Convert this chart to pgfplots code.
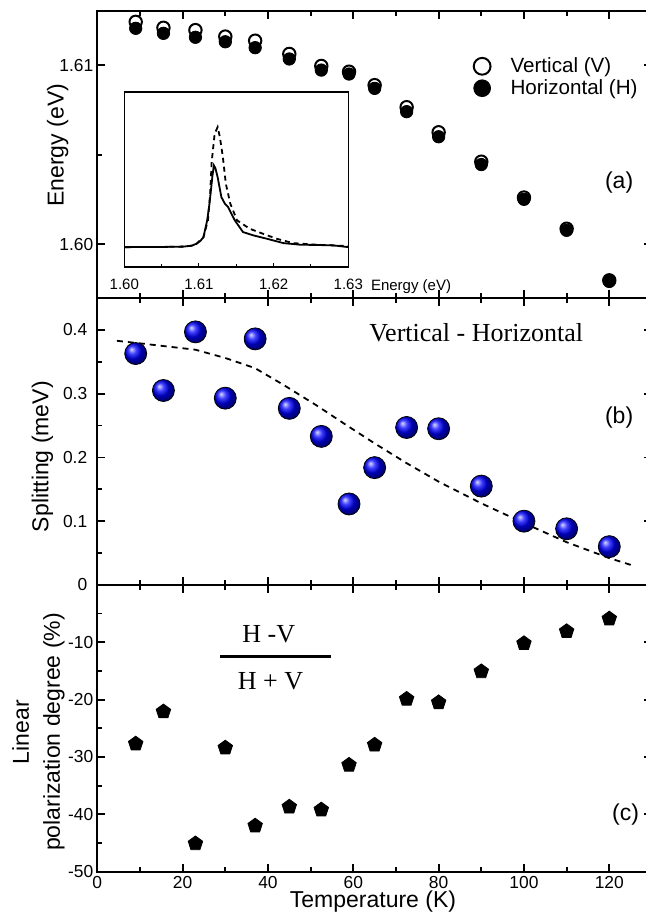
\documentclass[border=0pt]{standalone}
\usepackage{pgfplots}
\pgfplotsset{compat=1.18}
\usepackage{fontspec}
\setmainfont{Liberation Sans}
\newfontfamily\tnr{Liberation Serif}
\begin{document}
\begin{tikzpicture}
\pgfplotsset{
 panel/.style={
  scale only axis, width=277.33pt, height=143.4pt,
  xmin=0, xmax=130,
  xtick={0,20,...,120}, minor xtick={10,30,...,130},
  axis line style={line width=1pt},
  every tick/.style={line width=0.9pt, black},
  major tick length=4pt, minor tick length=2.5pt,
  tick label style={font=\fontsize{8.7}{10}\selectfont},
  xticklabel style={inner ysep=1pt, yshift=-0.9pt},
  label style={font=\fontsize{11.5}{15.5}\selectfont},
  clip=false,
 },
}
% ---------------- panel (a)
\begin{axis}[panel, name=a, at={(0,286.8pt)}, anchor=south west,
  ymin=1.597, ymax=1.613, ytick={1.60,1.61}, yticklabels={1.60,1.61}, minor ytick={1.605},
  yticklabel style={xshift=1.5pt},
  xticklabels={},
  ylabel={Energy (eV)}, ylabel style={at={(axis description cs:-0.0714,0.533)}, anchor=center},
  legend style={draw=none, fill=none, inner sep=0pt, at={(axis description cs:0.678,0.770)}, anchor=west,
    font=\fontsize{10.3}{12}\selectfont, row sep=-2pt,
    /tikz/every odd column/.append style={column sep=8pt}},
  legend cell align=left,
  legend image code/.code={\draw[#1, mark size=4.2pt] plot coordinates {(0cm,0cm)};},
]
\addplot[only marks, mark=*, mark size=3.1pt, mark options={fill=white, draw=black, line width=1pt}] coordinates {
(9,1.61241)(15.5,1.61208)(23,1.61195)(30,1.61159)(37,1.61136)(45,1.61062)(52.5,1.60995)(59,1.60963)
(65,1.60888)(72.5,1.60765)(80,1.60625)(90,1.60461)(100,1.60261)(110,1.60087)(120,1.59799)};
\addplot[only marks, mark=*, mark size=3.1pt, black] coordinates {
(9,1.61205)(15.5,1.61177)(23,1.61155)(30,1.61130)(37,1.61097)(45,1.61034)(52.5,1.60972)(59,1.60950)
(65,1.60870)(72.5,1.60740)(80,1.60600)(90,1.60445)(100,1.60251)(110,1.60078)(120,1.59793)};
\legend{Vertical (V), Horizontal (H)}
\node[font=\fontsize{11.5}{13}\selectfont] at (axis cs:122.3,1.60344) {(a)};
\coordinate (insSW) at (axis cs:6.33,1.59873);
\end{axis}
% ---------------- inset
\begin{axis}[at={(insSW)}, anchor=south west, scale only axis, width=112pt, height=87.5pt,
  xmin=1.60, xmax=1.63, ymin=0, ymax=1,
  xtick={1.60,1.61,1.62,1.63}, xticklabels={1.60,1.61,1.62,1.63}, minor xtick={1.605,1.615,1.625},
  ytick=\empty, xtick pos=left,
  axis line style={line width=0.6pt},
  every tick/.style={line width=0.5pt, black},
  major tick length=2pt, minor tick length=1.5pt,
  tick label style={font=\fontsize{7.5}{9}\selectfont},
  xticklabel style={yshift=-2.6pt},
  xlabel={Energy (eV)},
  xlabel style={at={(axis description cs:1.28,0)}, anchor=north, font=\fontsize{7.5}{9}\selectfont, yshift=-2.6pt},
  axis background/.style={fill=white},
]
\addplot[black, line width=0.9pt, dash pattern=on 2.5pt off 2pt] coordinates {
(1.600,0.114)(1.605,0.115)(1.6079,0.117)(1.6090,0.122)(1.6097,0.134)(1.6106,0.171)(1.6112,0.267)(1.6115,0.42)
(1.6117,0.60)(1.6121,0.762)(1.6125,0.80)(1.6128,0.743)(1.6132,0.629)(1.6136,0.476)(1.6142,0.362)(1.6151,0.267)
(1.6168,0.219)(1.6186,0.19)(1.6204,0.162)(1.6226,0.137)(1.6257,0.128)(1.6300,0.12)};
\addplot[black, line width=0.9pt] coordinates {
(1.600,0.114)(1.605,0.115)(1.6079,0.117)(1.6090,0.122)(1.6097,0.134)(1.6102,0.150)(1.6106,0.171)(1.6111,0.267)
(1.6114,0.36)(1.6116,0.438)(1.6118,0.52)(1.6120,0.581)(1.6122,0.565)(1.6125,0.514)(1.6130,0.40)(1.6135,0.36)
(1.6139,0.343)(1.6148,0.267)(1.6159,0.20)(1.6173,0.181)(1.6191,0.162)(1.6213,0.137)(1.6235,0.128)(1.6260,0.126)
(1.6280,0.124)(1.6300,0.114)};
\end{axis}
% ---------------- panel (b)
\begin{axis}[panel, at={(0,143.4pt)}, anchor=south west,
  ymin=0, ymax=0.45, ytick={0,0.1,0.2,0.3,0.4}, yticklabels={0,0.1,0.2,0.3,0.4},
  minor ytick={0.05,0.15,0.25,0.35},
  yticklabel style={xshift=-1.5pt},
  xticklabels={},
  ylabel={Splitting (meV)}, ylabel style={at={(axis description cs:-0.099,0.447)}, anchor=center},
]
\addplot[black, line width=0.9pt, dash pattern=on 3pt off 2.5pt] coordinates {
(4.6,0.383)(10,0.379)(23,0.369)(30,0.356)(37,0.34)(43.6,0.314)(51.3,0.282)(59,0.248)(65,0.222)
(72.5,0.191)(80,0.162)(90,0.128)(100,0.097)(110,0.067)(120,0.042)(125.7,0.030)};
\addplot[only marks, mark=ball, mark size=5.5pt, mark options={ball color=blue}] coordinates {
(9,0.363)(15.5,0.305)(23,0.397)(30,0.293)(37,0.386)(45,0.277)(52.5,0.233)(59,0.127)
(65,0.184)(72.5,0.247)(80,0.245)(90,0.155)(100,0.100)(110,0.088)(120,0.060)};
\node[font=\tnr\fontsize{13}{15}\selectfont] at (axis cs:88.8,0.396) {Vertical - Horizontal};
\node[font=\fontsize{11.5}{13}\selectfont] at (axis cs:122.3,0.2626) {(b)};
\end{axis}
% ---------------- panel (c)
\begin{axis}[panel, at={(0,0)}, anchor=south west,
  ymin=-50, ymax=0, ytick={-50,-40,-30,-20,-10,0}, yticklabels={-50,-40,-30,-20,-10,{}},
  minor ytick={-45,-35,-25,-15,-5},
  yticklabel style={xshift=1.5pt},
  xticklabels={0,20,40,60,80,100,120},
  xlabel={Temperature (K)}, xlabel style={at={(axis description cs:0.497,0)}, anchor=center, inner sep=0pt, yshift=-15pt},
  ylabel={Linear\\polarization degree (\%)},
  ylabel style={align=center, inner sep=0pt, at={(axis description cs:-0.106,0.487)}, anchor=center},
]
\addplot[only marks, mark=pentagon*, mark size=3.8pt, black] coordinates {
(9,-27.7)(15.5,-22.1)(23,-45.1)(30,-28.4)(37,-42.0)(45,-38.7)(52.5,-39.2)(59,-31.4)
(65,-27.9)(72.5,-19.9)(80,-20.5)(90,-15.1)(100,-10.2)(110,-8.1)(120,-5.9)};
\node[font=\tnr\fontsize{13}{15}\selectfont] at (axis cs:40.2,-8.58) {H -V};
\draw[line width=1.2pt] (axis cs:28.7,-12.5) -- (axis cs:54.7,-12.5);
\node[font=\tnr\fontsize{13}{15}\selectfont] at (axis cs:40.6,-16.7) {H + V};
\node[font=\fontsize{11.5}{13}\selectfont] at (axis cs:123.8,-40.1) {(c)};
\end{axis}
\pgfresetboundingbox
\path[use as bounding box] (-48.65pt,-22.15pt) rectangle (274.35pt,435.85pt);
\end{tikzpicture}
\end{document}
